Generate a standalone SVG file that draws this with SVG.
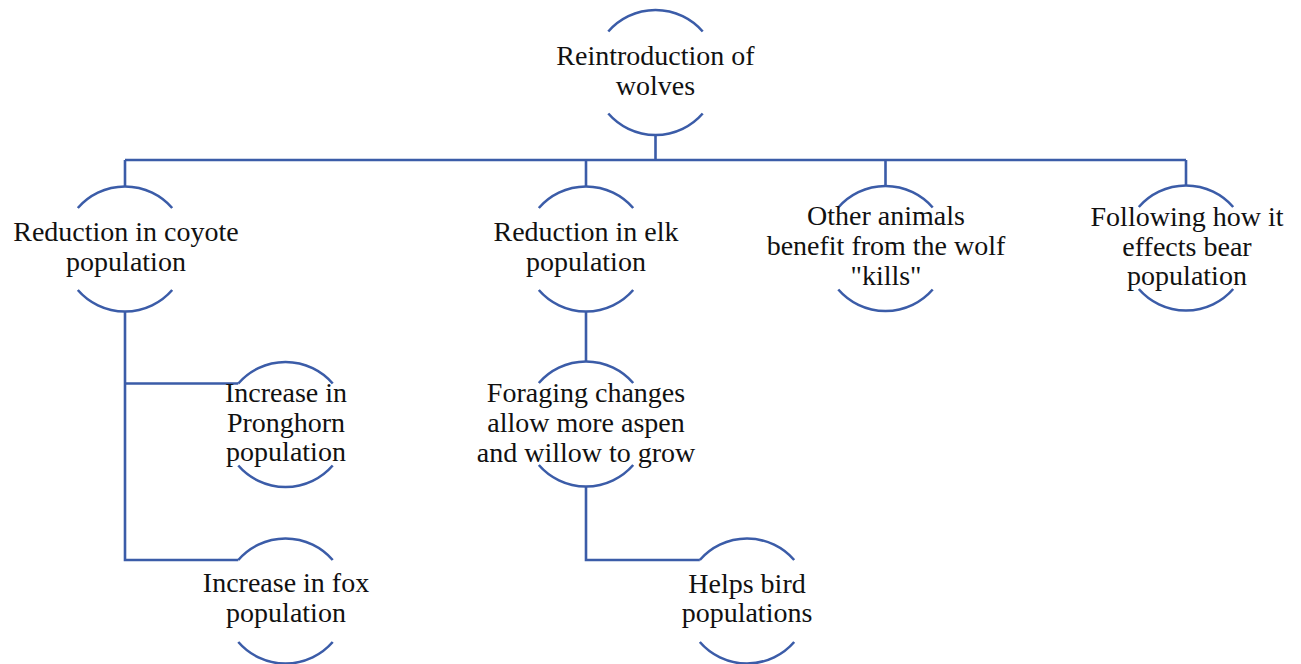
<svg xmlns="http://www.w3.org/2000/svg" width="1301" height="664" viewBox="0 0 1301 664">
<style>
.arc{fill:none;stroke:#3b5ca8;stroke-width:2.6;}
.conn{fill:none;stroke:#3b5ca8;stroke-width:2.6;}
text{font-family:"Liberation Serif","Times New Roman",serif;font-size:28px;fill:#111;text-anchor:middle;}
</style>
<rect width="1301" height="664" fill="#fff"/>
<g id="connectors">
<path class="conn" d="M655.5 135 V160 M125 160 H1186 M125 160 V186 M586 160 V186 M885.5 160 V186 M1186 160 V186"/>
<path class="conn" d="M125 311 V560 H238.3 M125 383.5 H238.3"/>
<path class="conn" d="M586 311 V362 M586 486 V560 H699.8"/>
</g>
<g id="n-wolves">
<path class="arc" d="M608.3 31.5 A62.5 62.5 0 0 1 702.7 31.5 M608.3 113.5 A62.5 62.5 0 0 0 702.7 113.5"/>
<text x="655.5" y="65">Reintroduction of</text>
<text x="655.5" y="95">wolves</text>
</g>
<g id="n-coyote">
<path class="arc" d="M77.8 208 A62.5 62.5 0 0 1 172.2 208 M77.8 290 A62.5 62.5 0 0 0 172.2 290"/>
<text x="126" y="241">Reduction in coyote</text>
<text x="126" y="271">population</text>
</g>
<g id="n-elk">
<path class="arc" d="M538.8 208 A62.5 62.5 0 0 1 633.2 208 M538.8 290 A62.5 62.5 0 0 0 633.2 290"/>
<text x="586" y="241">Reduction in elk</text>
<text x="586" y="271">population</text>
</g>
<g id="n-other">
<path class="arc" d="M838.3 207.5 A62.5 62.5 0 0 1 932.7 207.5 M838.3 289.5 A62.5 62.5 0 0 0 932.7 289.5"/>
<text x="886" y="225">Other animals</text>
<text x="886" y="255">benefit from the wolf</text>
<text x="886" y="285">"kills"</text>
</g>
<g id="n-bear">
<path class="arc" d="M1138.8 207 A62.5 62.5 0 0 1 1233.2 207 M1138.8 289 A62.5 62.5 0 0 0 1233.2 289"/>
<text x="1187" y="226">Following how it</text>
<text x="1187" y="256">effects bear</text>
<text x="1187" y="285">population</text>
</g>
<g id="n-pronghorn">
<path class="arc" d="M238.3 383.5 A62.5 62.5 0 0 1 332.7 383.5 M238.3 465.5 A62.5 62.5 0 0 0 332.7 465.5"/>
<text x="286" y="402">Increase in</text>
<text x="286" y="432">Pronghorn</text>
<text x="286" y="461">population</text>
</g>
<g id="n-fox">
<path class="arc" d="M238.3 560 A62.5 62.5 0 0 1 332.7 560 M238.3 642 A62.5 62.5 0 0 0 332.7 642"/>
<text x="286" y="592">Increase in fox</text>
<text x="286" y="622">population</text>
</g>
<g id="n-foraging">
<path class="arc" d="M538.8 383 A62.5 62.5 0 0 1 633.2 383 M538.8 465 A62.5 62.5 0 0 0 633.2 465"/>
<text x="586" y="402">Foraging changes</text>
<text x="586" y="432">allow more aspen</text>
<text x="586" y="462">and willow to grow</text>
</g>
<g id="n-birds">
<path class="arc" d="M699.8 560 A62.5 62.5 0 0 1 794.2 560 M699.8 642 A62.5 62.5 0 0 0 794.2 642"/>
<text x="747" y="593">Helps bird</text>
<text x="747" y="622">populations</text>
</g>
</svg>
